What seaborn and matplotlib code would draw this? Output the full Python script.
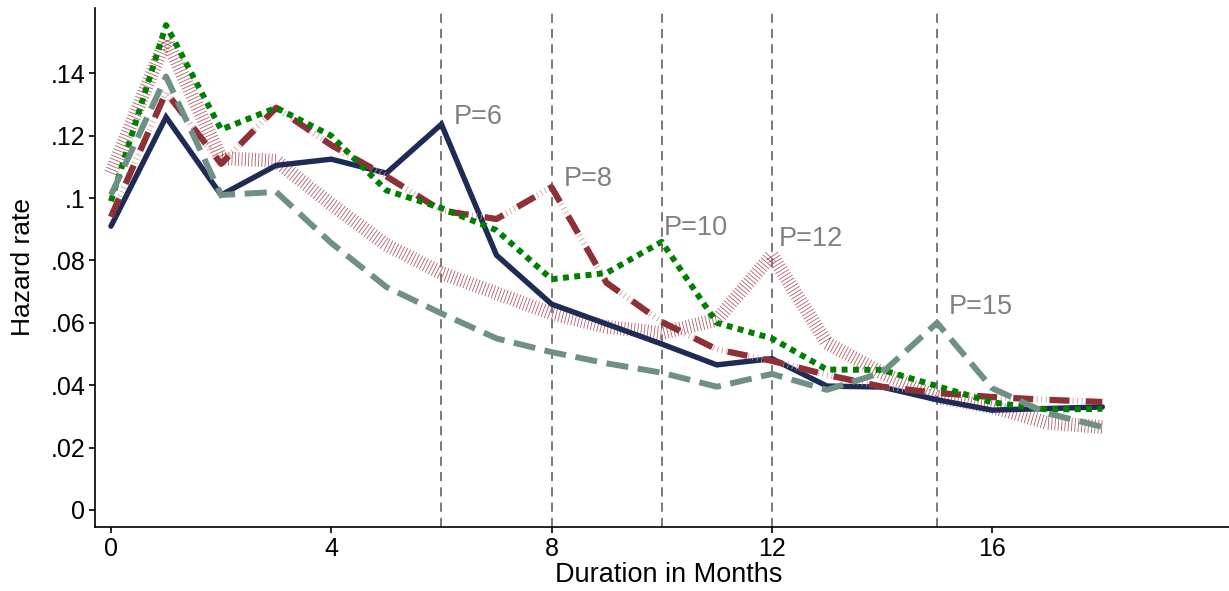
"""
Hazard rate by duration for different potential benefit durations (P).
"""
import numpy as np
import pandas as pd
import matplotlib
matplotlib.use('Agg')
import matplotlib.pyplot as plt
import seaborn as sns

# Data
months = list(range(19))
p6 = [.091, .126, .101, .1105, .1125, .108, .1237, .0817, .066, .0596, .0532,
      .0465, .0485, .0397, .0394, .0353, .032, .0325, .033]
p8 = [.094, .134, .111, .129, .117, .107, .096, .0933, .1035, .0728, .0603,
      .0515, .0478, .0433, .0395, .0375, .0362, .0353, .0346]
p10 = [.099, .1555, .122, .129, .120, .1025, .0968, .0897, .0740, .076, .086,
       .060, .055, .045, .0449, .0397, .0345, .0322, .0324]
p12 = [.108, .151, .1128, .112, .098, .085, .076, .0695, .063, .0587, .0567,
       .061, .0817, .0535, .0439, .0362, .033, .0279, .0266]
p15 = [.101, .139, .101, .102, .0856, .0715, .063, .055, .0506, .047, .044,
       .0395, .0436, .0385, .044, .060, .039, .031, .0266]

cutoffs = [6, 8, 10, 12, 15]
label_text = ["P=6", "P=8", "P=10", "P=12", "P=15"]
label_x = [6.22, 8.22, 10.03, 12.12, 15.22]
label_y = [.126, .106, .0904, .0869, .065]

xticks = [0, 4, 8, 12, 16]
yticks = [0, .02, .04, .06, .08, .10, .12, .14]
ytick_labels = ["0", ".02", ".04", ".06", ".08", ".1", ".12", ".14"]

# Style
sns.set_theme(style="ticks")
plt.rcParams['font.family'] = ['Liberation Sans', 'DejaVu Sans']

fig = plt.figure(figsize=(12.29, 5.91), dpi=100)
ax = fig.add_axes([0.0773, 0.1083, 0.9227, 0.8782])

for xc in cutoffs:
    ax.axvline(xc, color='#555555', lw=1.1, linestyle=(0, (6, 4)), zorder=1)

# P=6: solid navy
sns.lineplot(x=months, y=p6, color='#1e2b55', lw=3.9, ax=ax, legend=False,
             solid_joinstyle='miter', zorder=3)
# P=8: long dash with light hatching in between
sns.lineplot(x=months, y=p8, color='#cf959b', lw=4.5, ax=ax, legend=False,
             linestyle=(0, (0.12, 0.6)), dash_capstyle='butt', zorder=3)
sns.lineplot(x=months, y=p8, color='#8e3036', lw=4.5, ax=ax, legend=False,
             linestyle=(0, (3.2, 2.6)), dash_capstyle='butt', zorder=3)
# P=10: green dotted
sns.lineplot(x=months, y=p10, color='#008000', lw=4.3, ax=ax, legend=False,
             linestyle=(0, (1, 0.9)), dash_capstyle='butt', zorder=3)
# P=12: thick hatched band
sns.lineplot(x=months, y=p12, color='#b25d67', lw=10, ax=ax, legend=False,
             linestyle=(0, (0.06, 0.18)), dash_capstyle='butt', zorder=2)
# P=15: grey-green dashed
sns.lineplot(x=months, y=p15, color='#6f9085', lw=4.3, ax=ax, legend=False,
             linestyle=(0, (3.7, 1.6)), dash_capstyle='butt', zorder=3)

for t, lx, ly in zip(label_text, label_x, label_y):
    ax.text(lx, ly, t, color='#808080', fontsize=19.5, ha='left', va='center')

ax.set_xlim(-0.29, 20.3)
ax.set_ylim(-0.0055, 0.161)
ax.set_xticks(xticks)
ax.set_xticklabels([str(v) for v in xticks])
ax.set_yticks(yticks)
ax.set_yticklabels(ytick_labels)
ax.tick_params(axis='both', labelsize=18, length=4, width=1.2, color='black',
               labelcolor='black', pad=3)
ax.set_xlabel("Duration in Months", fontsize=19.5, color='black')
ax.xaxis.set_label_coords(0.506, -0.068)
ax.set_ylabel("Hazard rate", fontsize=19, color='black', labelpad=11)
for side in ['left', 'bottom']:
    ax.spines[side].set_color('black')
    ax.spines[side].set_linewidth(1.2)
sns.despine(ax=ax)
ax.grid(False)

fig.savefig("out.png", dpi=100)
plt.close()
